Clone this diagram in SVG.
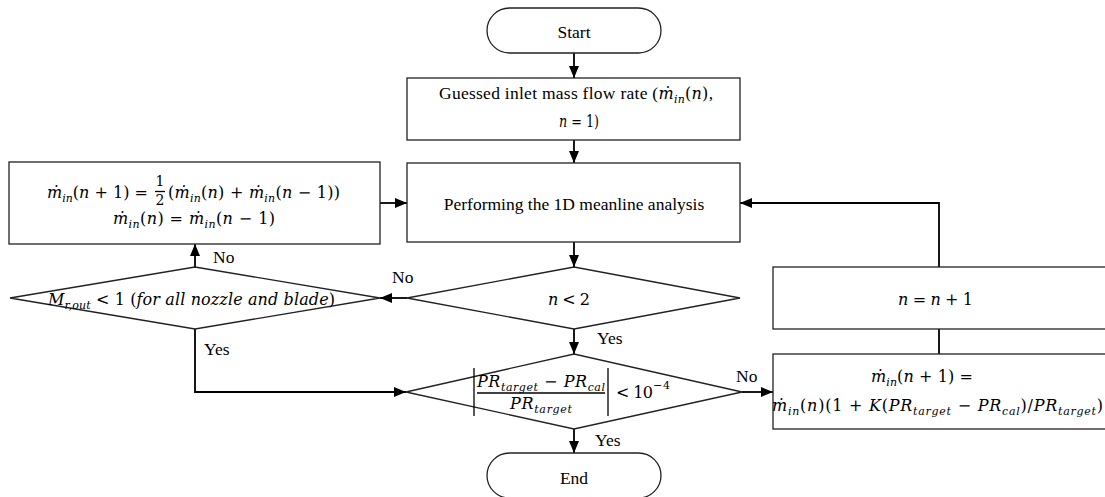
<svg xmlns="http://www.w3.org/2000/svg" width="1105" height="497" viewBox="0 0 1105 497">
<style>
.box{fill:#fff;stroke:#222;stroke-width:1.3}
.c{fill:none;stroke:#000;stroke-width:1.8}
.t{font-family:"Liberation Serif","Times New Roman",serif;font-size:17.5px;fill:#000}
.m{font-family:"DejaVu Serif",serif;font-size:16px;fill:#000}
.i{font-style:italic}
.s{font-size:11px}
.f{font-size:14px}
.bar{stroke:#000;stroke-width:1.3}
</style>
<defs>
<marker id="ah" markerUnits="userSpaceOnUse" markerWidth="13" markerHeight="10" refX="12" refY="5" orient="auto">
<path d="M0,0 L12,5 L0,10 z" fill="#000"/>
</marker>
</defs>
<rect width="1105" height="497" fill="#fff"/>

<g id="connectors">
<line class="c" x1="574" y1="53" x2="574" y2="78" marker-end="url(#ah)"/>
<line class="c" x1="574" y1="140" x2="574" y2="163" marker-end="url(#ah)"/>
<line class="c" x1="574" y1="242" x2="574" y2="267" marker-end="url(#ah)"/>
<line class="c" x1="407" y1="298" x2="380" y2="298" marker-end="url(#ah)"/>
<line class="c" x1="195" y1="267" x2="195" y2="244" marker-end="url(#ah)"/>
<line class="c" x1="380" y1="203" x2="407" y2="203" marker-end="url(#ah)"/>
<polyline class="c" points="195,329 195,392 406,392" marker-end="url(#ah)"/>
<line class="c" x1="574" y1="329" x2="574" y2="354" marker-end="url(#ah)"/>
<line class="c" x1="742" y1="392" x2="773" y2="392" marker-end="url(#ah)"/>
<line class="c" x1="574" y1="429" x2="574" y2="453" marker-end="url(#ah)"/>
<line class="c" x1="939" y1="354" x2="939" y2="329"/>
<polyline class="c" points="939,267 939,203 740,203" marker-end="url(#ah)"/>
<text class="t" x="213" y="263">No</text>
<text class="t" x="392" y="283">No</text>
<text class="t" x="597" y="344">Yes</text>
<text class="t" x="204" y="355">Yes</text>
<text class="t" x="595" y="446">Yes</text>
<text class="t" x="736" y="382">No</text>
</g>

<g id="start">
<rect class="box" x="487" y="8" width="174" height="45" rx="22.5"/>
<text class="t" x="574" y="38" text-anchor="middle">Start</text>
</g>

<g id="guess">
<rect class="box" x="407" y="78" width="333" height="62"/>
<text class="t" x="439" y="99" textLength="274">Guessed inlet mass flow rate (<tspan class="m i">ṁ</tspan><tspan class="m i s" dy="4">in</tspan><tspan class="m" dy="-4">(</tspan><tspan class="m i">n</tspan><tspan class="m">)</tspan>,</text>
<text class="m" x="559" y="127" font-size="15" textLength="40" lengthAdjust="spacingAndGlyphs"><tspan class="i">n</tspan> = 1)</text>
</g>

<g id="meanline">
<rect class="box" x="407" y="163" width="333" height="79"/>
<text class="t" x="574" y="210" text-anchor="middle">Performing the 1D meanline analysis</text>
</g>

<g id="average">
<rect class="box" x="9" y="162" width="371" height="82"/>
<text class="m" x="47" y="198" textLength="101"><tspan class="i">ṁ</tspan><tspan class="i s" dy="4">in</tspan><tspan dy="-4">(</tspan><tspan class="i">n</tspan> + 1) =</text>
<text class="m f" x="160" y="186" text-anchor="middle">1</text>
<line class="bar" x1="155" y1="191.5" x2="165" y2="191.5"/>
<text class="m f" x="160" y="205" text-anchor="middle">2</text>
<text class="m" x="168" y="198" textLength="172">(<tspan class="i">ṁ</tspan><tspan class="i s" dy="4">in</tspan><tspan dy="-4">(</tspan><tspan class="i">n</tspan>) + <tspan class="i">ṁ</tspan><tspan class="i s" dy="4">in</tspan><tspan dy="-4">(</tspan><tspan class="i">n</tspan> − 1))</text>
<text class="m" x="113" y="224" textLength="162"><tspan class="i">ṁ</tspan><tspan class="i s" dy="4">in</tspan><tspan dy="-4">(</tspan><tspan class="i">n</tspan>) = <tspan class="i">ṁ</tspan><tspan class="i s" dy="4">in</tspan><tspan dy="-4">(</tspan><tspan class="i">n</tspan> − 1)</text>
</g>

<g id="mach">
<polygon class="box" points="10,298 195,267 380,298 195,329"/>
<text class="m" x="48" y="305" textLength="287"><tspan class="i">M</tspan><tspan class="i s" dy="4">r,out</tspan><tspan dy="-4"> &lt; 1 (</tspan><tspan class="i">for all nozzle and blade</tspan>)</text>
</g>

<g id="ncheck">
<polygon class="box" points="407,298 574,267 740,298 574,329"/>
<text class="m" x="548" y="305" textLength="42"><tspan class="i">n</tspan> &lt; 2</text>
</g>

<g id="converge">
<polygon class="box" points="406,392 574,354 742,392 574,429"/>
<line class="bar" x1="474" y1="368" x2="474" y2="416"/>
<line class="bar" x1="608" y1="368" x2="608" y2="416"/>
<text class="m" x="477" y="387" textLength="128"><tspan class="i">PR</tspan><tspan class="i s" dy="4">target</tspan><tspan dy="-4"> − </tspan><tspan class="i">PR</tspan><tspan class="i s" dy="4">cal</tspan></text>
<line class="bar" x1="477" y1="393" x2="605" y2="393"/>
<text class="m" x="510" y="409" textLength="62"><tspan class="i">PR</tspan><tspan class="i s" dy="4">target</tspan></text>
<text class="m" x="616" y="398" textLength="37">&lt; 10</text>
<text class="m s" x="653" y="389" textLength="17">−4</text>
</g>

<g id="increment">
<rect class="box" x="773" y="267" width="340" height="62"/>
<text class="m" x="898" y="305" textLength="75"><tspan class="i">n</tspan> = <tspan class="i">n</tspan> + 1</text>
</g>

<g id="update">
<rect class="box" x="773" y="354" width="340" height="75"/>
<text class="m" x="871" y="382" textLength="102"><tspan class="i">ṁ</tspan><tspan class="i s" dy="4">in</tspan><tspan dy="-4">(</tspan><tspan class="i">n</tspan> + 1) =</text>
<text class="m" x="772" y="411" textLength="331"><tspan class="i">ṁ</tspan><tspan class="i s" dy="4">in</tspan><tspan dy="-4">(</tspan><tspan class="i">n</tspan>)(1 + <tspan class="i">K</tspan>(<tspan class="i">PR</tspan><tspan class="i s" dy="4">target</tspan><tspan dy="-4"> − </tspan><tspan class="i">PR</tspan><tspan class="i s" dy="4">cal</tspan><tspan dy="-4">)/</tspan><tspan class="i">PR</tspan><tspan class="i s" dy="4">target</tspan><tspan dy="-4">)</tspan></text>
</g>

<g id="end">
<rect class="box" x="487" y="453" width="174" height="45" rx="22.5"/>
<text class="t" x="574" y="484" text-anchor="middle">End</text>
</g>
</svg>
